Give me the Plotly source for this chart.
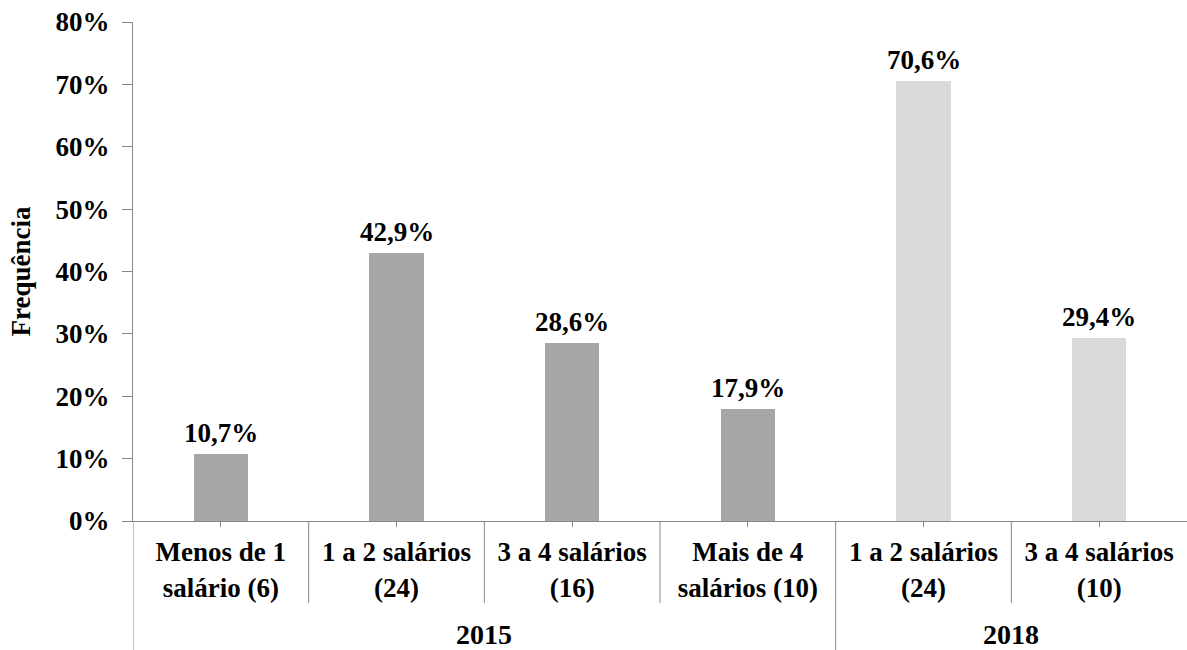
import plotly.graph_objects as go

years = ["2015", "2018"]
categories_2015 = ["Menos de 1<br>salário (6)", "1 a 2 salários<br>(24)",
                   "3 a 4 salários<br>(16)", "Mais de 4<br>salários (10)"]
values_2015 = [10.7, 42.9, 28.6, 17.9]
categories_2018 = ["1 a 2 salários<br>(24)", "3 a 4 salários<br>(10)"]
values_2018 = [70.6, 29.4]
y_tick_values = [0, 10, 20, 30, 40, 50, 60, 70, 80]
y_title = "Frequência"

FONT = "Liberation Serif"
AXIS_COLOR = "#868686"

x2015 = list(range(len(categories_2015)))
x2018 = list(range(len(categories_2015), len(categories_2015) + len(categories_2018)))
all_x = x2015 + x2018
all_labels = categories_2015 + categories_2018
n = len(all_x)

def fmt(v):
    return f"{v:.1f}%".replace(".", ",")

fig = go.Figure()
fig.add_trace(go.Bar(x=x2015, y=values_2015, width=0.31, marker_color="#a6a6a6",
                     marker_line_width=0, name=years[0], showlegend=False))
fig.add_trace(go.Bar(x=x2018, y=values_2018, width=0.31, marker_color="#d9d9d9",
                     marker_line_width=0, name=years[1], showlegend=False))

annotations = []
for xs, vs in ((x2015, values_2015), (x2018, values_2018)):
    for x, v in zip(xs, vs):
        annotations.append(dict(x=x, y=v, xref="x", yref="y", text=fmt(v),
                                showarrow=False, yanchor="bottom", yshift=4,
                                font=dict(family=FONT, size=27, color="black", weight="bold")))

# year group labels
group_centers = [(x2015[0] + x2015[-1]) / 2, (x2018[0] + x2018[-1]) / 2]
for yr, cx in zip(years, group_centers):
    annotations.append(dict(x=cx, y=-0.228, xref="x", yref="paper", text=yr,
                            showarrow=False, yanchor="middle",
                            font=dict(family=FONT, size=28, color="black", weight="bold")))

shapes = []
bottom = -129 / 499
mid = -82 / 499
# y axis extension down through label area
shapes.append(dict(type="line", xref="x", yref="paper", x0=-0.5, x1=-0.5, y0=0, y1=bottom,
                   line=dict(color=AXIS_COLOR, width=1)))
for i in range(1, n):
    b = i - 0.5
    y1 = bottom if i == len(x2015) else mid
    shapes.append(dict(type="line", xref="x", yref="paper", x0=b, x1=b, y0=0, y1=y1,
                       line=dict(color=AXIS_COLOR, width=1)))

fig.update_layout(
    width=1187, height=650,
    margin=dict(l=133, r=0, t=22, b=129),
    plot_bgcolor="white", paper_bgcolor="white",
    bargap=0,
    annotations=annotations,
    shapes=shapes,
    font=dict(family=FONT, color="black"),
)
fig.update_xaxes(range=[-0.5, n - 0.5], tickmode="array", tickvals=all_x, ticktext=all_labels,
                 showline=True, linecolor=AXIS_COLOR, linewidth=1,
                 ticks="outside", ticklen=5, tickcolor=AXIS_COLOR,
                 tickfont=dict(family=FONT, size=27, color="black", weight="bold"),
                 showgrid=False, zeroline=False, ticklabelstandoff=2)
fig.update_yaxes(range=[0, 80], tickmode="array", tickvals=y_tick_values,
                 ticktext=[f"{v}%" for v in y_tick_values],
                 showline=True, linecolor=AXIS_COLOR, linewidth=1,
                 ticks="outside", ticklen=10, tickcolor=AXIS_COLOR,
                 tickfont=dict(family=FONT, size=27, color="black", weight="bold"),
                 showgrid=False, zeroline=False, ticklabelstandoff=7,
                 title=dict(text=y_title, standoff=17,
                            font=dict(family=FONT, size=27, color="black", weight="bold")))

fig.write_html("out.html")
